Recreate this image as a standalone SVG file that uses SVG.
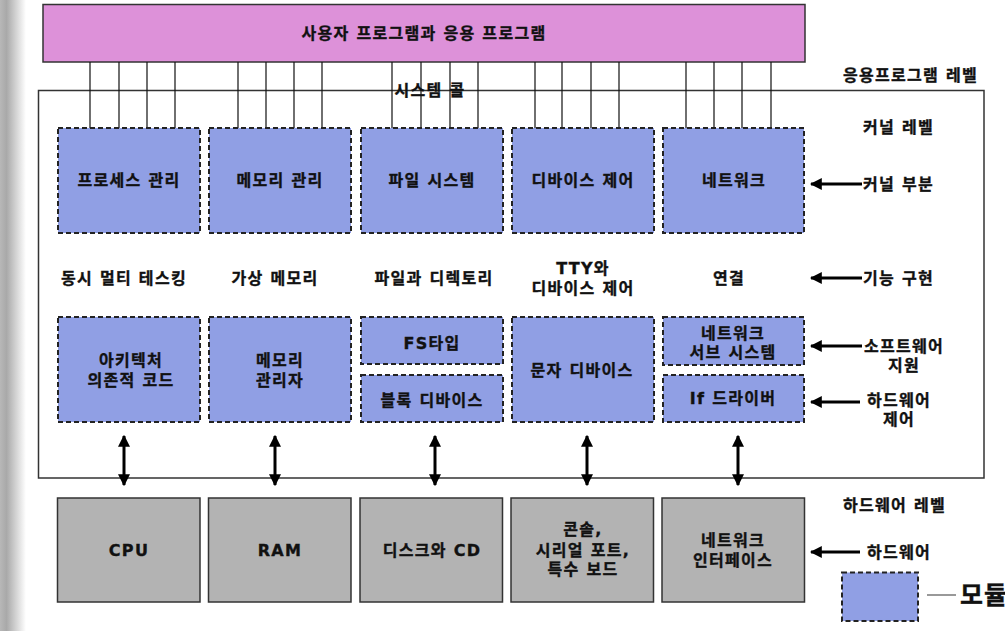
<svg xmlns="http://www.w3.org/2000/svg" width="1005" height="631" viewBox="0 0 1005 631">
<defs>
<linearGradient id="edge" x1="0" y1="0" x2="1" y2="0">
<stop offset="0" stop-color="#b8b8b8"/>
<stop offset="0.25" stop-color="#a9a9a9"/>
<stop offset="1" stop-color="#ffffff"/>
</linearGradient>
<marker id="ah" viewBox="0 0 10 10" refX="9" refY="5" markerWidth="4" markerHeight="4" orient="auto-start-reverse" markerUnits="strokeWidth">
<path d="M0,0 L10,5 L0,10 Z" fill="#000"/>
</marker>
</defs>
<style>
text{font-family:"DejaVu Sans","Noto Sans CJK KR",sans-serif;font-weight:bold;font-size:16px;fill:#111;stroke:#111;stroke-width:0.35px;letter-spacing:1.3px;text-anchor:middle}
.l{text-anchor:start}
.mod{fill:#909fe4;stroke:#222;stroke-width:2;stroke-dasharray:5 3}
.hw{fill:#b3b3b3;stroke:#333;stroke-width:1.5}
.sc{stroke:#111;stroke-width:1.2;fill:none}
.ar{stroke:#000;stroke-width:3;fill:none;marker-end:url(#ah)}
.da{stroke:#000;stroke-width:3;fill:none;marker-end:url(#ah);marker-start:url(#ah)}
</style>
<rect x="0" y="0" width="1005" height="631" fill="#fff"/>
<rect x="0" y="0" width="26" height="631" fill="url(#edge)"/>

<g id="app">
<rect x="43" y="4.5" width="762" height="57.5" fill="#dd91d9" stroke="#333" stroke-width="1.5"/>
<text x="424" y="39">사용자 프로그램과 응용 프로그램</text>
</g>

<g id="kernel-frame">
<rect x="38.5" y="90.5" width="945.5" height="387.5" fill="none" stroke="#333" stroke-width="1.5"/>
</g>

<g id="connectors">
<path class="sc" d="M90,62V128M119,62V128M147,62V128M175,62V128M238,62V128M266,62V128M294,62V128M322,62V128M392,62V128M421,62V128M450,62V128M478,62V128M535,62V128M562,62V128M591,62V128M619,62V128M686,62V128M714,62V128M742,62V128M771,62V128"/>
<line class="da" x1="124" y1="436" x2="124" y2="485"/>
<line class="da" x1="275" y1="436" x2="275" y2="485"/>
<line class="da" x1="435" y1="436" x2="435" y2="485"/>
<line class="da" x1="587" y1="436" x2="587" y2="485"/>
<line class="da" x1="738" y1="436" x2="738" y2="485"/>
<line class="ar" x1="862" y1="184" x2="811" y2="184"/>
<line class="ar" x1="862" y1="278" x2="811" y2="278"/>
<line class="ar" x1="862" y1="346" x2="811" y2="346"/>
<line class="ar" x1="860" y1="402" x2="811" y2="402"/>
<line class="ar" x1="860" y1="552" x2="811" y2="552"/>
<line x1="927" y1="595" x2="956" y2="595" stroke="#555" stroke-width="1.2"/>
</g>

<text x="430" y="96">시스템 콜</text>

<g id="m-process"><rect class="mod" x="58" y="128" width="142" height="105"/><text x="129" y="186">프로세스 관리</text></g>
<g id="m-memory"><rect class="mod" x="209" y="128" width="142" height="105"/><text x="280" y="186">메모리 관리</text></g>
<g id="m-fs"><rect class="mod" x="361" y="128" width="142" height="105"/><text x="432" y="186">파일 시스템</text></g>
<g id="m-device"><rect class="mod" x="512" y="128" width="142" height="105"/><text x="583" y="186">디바이스 제어</text></g>
<g id="m-network"><rect class="mod" x="663" y="128" width="141" height="105"/><text x="734" y="186">네트워크</text></g>

<g id="f-labels">
<text x="124" y="284">동시 멀티 테스킹</text>
<text x="275" y="284">가상 메모리</text>
<text x="434" y="284">파일과 디렉토리</text>
<text x="583" y="274">TTY와</text>
<text x="583" y="294">디바이스 제어</text>
<text x="729" y="284">연결</text>
</g>

<g id="m-arch"><rect class="mod" x="58" y="317" width="142" height="105"/><text x="131" y="366">아키텍처</text><text x="131" y="386">의존적 코드</text></g>
<g id="m-memmgr"><rect class="mod" x="209" y="317" width="142" height="105"/><text x="280" y="366">메모리</text><text x="280" y="386">관리자</text></g>
<g id="m-fstype"><rect class="mod" x="361" y="317" width="142" height="47"/><text x="432" y="349">FS타입</text></g>
<g id="m-block"><rect class="mod" x="361" y="375" width="142" height="47"/><text x="432" y="406">블록 디바이스</text></g>
<g id="m-char"><rect class="mod" x="512" y="317" width="142" height="105"/><text x="582" y="376">문자 디바이스</text></g>
<g id="m-netsub"><rect class="mod" x="663" y="317" width="141" height="48"/><text x="733" y="339">네트워크</text><text x="733" y="358">서브 시스템</text></g>
<g id="m-ifdrv"><rect class="mod" x="663" y="375" width="141" height="47"/><text x="733" y="404">If 드라이버</text></g>

<g id="h-cpu"><rect class="hw" x="57.5" y="498" width="142.5" height="104"/><text x="129" y="556">CPU</text></g>
<g id="h-ram"><rect class="hw" x="208.5" y="498" width="142.5" height="104"/><text x="280" y="556">RAM</text></g>
<g id="h-disk"><rect class="hw" x="360" y="498" width="142.5" height="104"/><text x="432" y="556">디스크와 CD</text></g>
<g id="h-console"><rect class="hw" x="511" y="498" width="142.5" height="104"/><text x="583" y="535">콘솔,</text><text x="583" y="556">시리얼 포트,</text><text x="583" y="575">특수 보드</text></g>
<g id="h-nic"><rect class="hw" x="662" y="498" width="142.5" height="104"/><text x="733" y="546">네트워크</text><text x="733" y="566">인터페이스</text></g>

<g id="side-labels">
<text class="l" x="843" y="81">응용프로그램 레벨</text>
<text class="l" x="863" y="133">커널 레벨</text>
<text class="l" x="863" y="190">커널 부분</text>
<text class="l" x="863" y="284">기능 구현</text>
<text x="904" y="352">소프트웨어</text>
<text x="904" y="371">지원</text>
<text x="899" y="406">하드웨어</text>
<text x="899" y="425">제어</text>
<text class="l" x="843" y="511">하드웨어 레벨</text>
<text class="l" x="867" y="558">하드웨어</text>
</g>

<g id="legend">
<rect class="mod" x="842" y="572.5" width="76" height="48.5"/>
<text class="l" x="960" y="604" style="font-size:25px;letter-spacing:1px">모듈</text>
</g>
</svg>
